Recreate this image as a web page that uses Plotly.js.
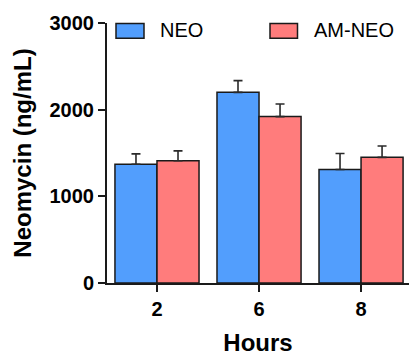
<!DOCTYPE html>
<html>
<head>
<meta charset="utf-8">
<script src="https://cdn.plot.ly/plotly-3.0.1.min.js"></script>
<style>html,body{margin:0;padding:0;background:#fff;}#chart{width:409px;height:356px;}</style>
</head>
<body>
<div id="chart"></div>
<script>
const hours = ['2', '6', '8'];
const neoValues = [1370, 2200, 1310];
const neoErrors = [120, 135, 185];
const amNeoValues = [1410, 1920, 1450];
const amNeoErrors = [115, 145, 130];
const seriesNames = ['NEO', 'AM-NEO'];
const yTicks = [0, 1000, 2000, 3000];

const FONT = 'Arial, "Liberation Sans", sans-serif';
const BLUE = '#529EFD';
const RED = '#FF7C7C';
const EDGE = '#1a1a1a';

function barTrace(name, vals, errs, color) {
  return {
    type: 'bar', name: name, x: hours, y: vals,
    marker: {color: color, line: {color: EDGE, width: 1.5}},
    error_y: {type: 'data', symmetric: false, array: errs, arrayminus: errs.map(() => 0),
              color: '#2a2a2a', thickness: 1.6, width: 4.5},
    showlegend: false
  };
}

const data = [
  barTrace(seriesNames[0], neoValues, neoErrors, BLUE),
  barTrace(seriesNames[1], amNeoValues, amNeoErrors, RED)
];

const L = 107, W = 302, T = 23, H = 260;
const px = v => (v - L) / W;
const py = v => (T + H - v) / H;

const layout = {
  width: 409, height: 356,
  margin: {l: L, r: 0, t: T, b: 73},
  paper_bgcolor: '#fff', plot_bgcolor: '#fff',
  barmode: 'group', bargap: 0.176, bargroupgap: 0,
  showlegend: false,
  font: {family: FONT, color: '#000'},
  xaxis: {
    type: 'category', categoryorder: 'array', categoryarray: hours,
    range: [-0.49, 2.47], showgrid: false, zeroline: false,
    showline: true, linecolor: EDGE, linewidth: 2,
    ticks: 'outside', ticklen: 7, tickwidth: 2, tickcolor: EDGE,
    tickfont: {family: FONT, size: 20, weight: 'bold', color: '#000'},
    title: {text: '<b>Hours</b>', font: {family: FONT, size: 24, color: '#000'}, standoff: 18},
    automargin: false, fixedrange: true
  },
  yaxis: {
    range: [0, 3000], tickvals: yTicks, ticktext: yTicks.map(String),
    showgrid: false, zeroline: false,
    showline: true, linecolor: EDGE, linewidth: 2,
    ticks: 'outside', ticklen: 7, tickwidth: 2, tickcolor: EDGE,
    tickfont: {family: FONT, size: 20, weight: 'bold', color: '#000'},
    title: {text: '<b>Neomycin (ng/mL)</b>', font: {family: FONT, size: 24, color: '#000'}, standoff: 11},
    automargin: false, fixedrange: true
  },
  shapes: [
    {type: 'rect', xref: 'paper', yref: 'paper', x0: px(116), x1: px(144), y0: py(38.3), y1: py(23.5),
     fillcolor: BLUE, line: {color: EDGE, width: 1.5}},
    {type: 'rect', xref: 'paper', yref: 'paper', x0: px(270), x1: px(297.5), y0: py(38.3), y1: py(23.5),
     fillcolor: RED, line: {color: EDGE, width: 1.5}}
  ],
  annotations: [
    {xref: 'paper', yref: 'paper', x: px(158), y: py(29.5), xanchor: 'left', yanchor: 'middle',
     text: seriesNames[0], showarrow: false, font: {family: FONT, size: 20, color: '#000'}},
    {xref: 'paper', yref: 'paper', x: px(312), y: py(29.5), xanchor: 'left', yanchor: 'middle',
     text: seriesNames[1], showarrow: false, font: {family: FONT, size: 20, color: '#000'}}
  ]
};

Plotly.newPlot('chart', data, layout, {displayModeBar: false, staticPlot: true});
</script>
</body>
</html>
